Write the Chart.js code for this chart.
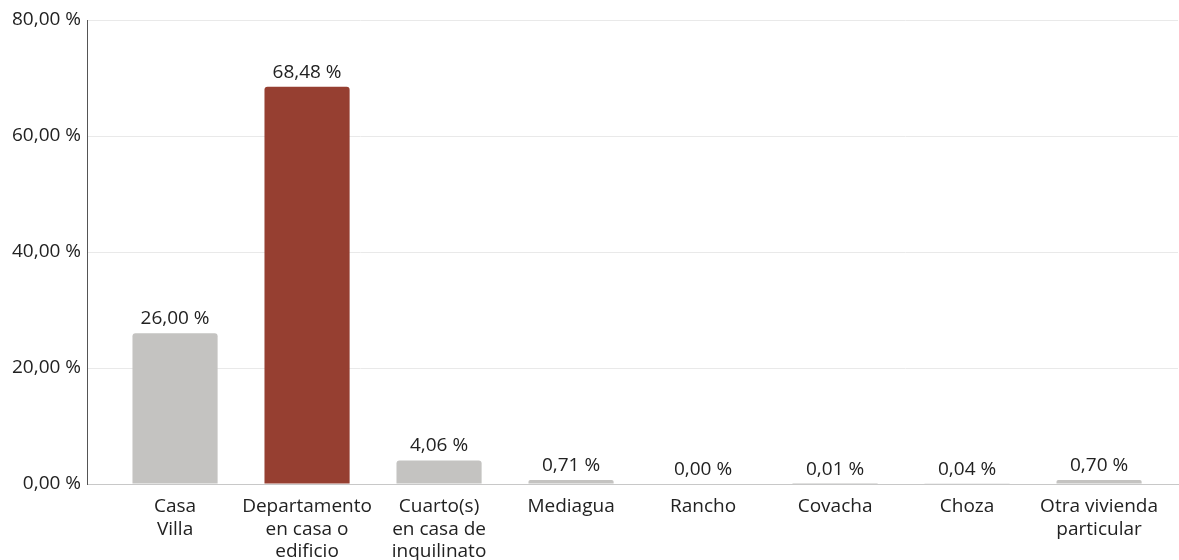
<!DOCTYPE html>
<html>
<head>
<meta charset="utf-8">
<script src="https://cdn.jsdelivr.net/npm/chart.js@4.4.1/dist/chart.umd.min.js"></script>
<style>
  html, body { margin: 0; padding: 0; background: #fff; overflow: hidden; }
  #wrap { width: 1179px; height: 580px; position: relative; }
</style>
</head>
<body>
<div id="wrap"><canvas id="chart"></canvas></div>
<script>
const categories = [
  ["Casa", "Villa"],
  ["Departamento", "en casa o", "edificio"],
  ["Cuarto(s)", "en casa de", "inquilinato"],
  ["Mediagua"],
  ["Rancho"],
  ["Covacha"],
  ["Choza"],
  ["Otra vivienda", "particular"]
];
const values = [26.00, 68.48, 4.06, 0.71, 0.00, 0.01, 0.04, 0.70];
const highlightIndex = 1;
const yTicks = [0, 20, 40, 60, 80];

const GRAY = "#c4c3c1";
const RED = "#963f31";
const FONT = "'Open Sans', sans-serif";

function formatPct(v) {
  return v.toFixed(2).replace(".", ",") + " %";
}

const valueLabels = {
  id: "valueLabels",
  afterDatasetsDraw(chart) {
    const ctx = chart.ctx;
    const meta = chart.getDatasetMeta(0);
    ctx.save();
    ctx.font = "19px " + FONT;
    ctx.fillStyle = "#222";
    ctx.textAlign = "center";
    ctx.textBaseline = "bottom";
    meta.data.forEach((bar, i) => {
      ctx.fillText(formatPct(values[i]), bar.x, bar.y - 5);
    });
    ctx.restore();
  }
};

new Chart(document.getElementById("chart"), {
  type: "bar",
  data: {
    datasets: [{
      data: values.map((v, i) => ({ x: i, y: v })),
      backgroundColor: values.map((v, i) => i === highlightIndex ? RED : GRAY),
      borderRadius: { topLeft: 3, topRight: 3 },
      borderSkipped: "bottom",
      categoryPercentage: 1,
      barPercentage: 0.645
    }]
  },
  options: {
    responsive: true,
    maintainAspectRatio: false,
    animation: false,
    layout: { padding: { top: 20, right: 1, left: 0, bottom: 0 } },
    plugins: {
      legend: { display: false },
      tooltip: { enabled: false }
    },
    scales: {
      x: {
        type: "linear",
        offset: false,
        min: -0.667,
        max: 7.598,
        afterBuildTicks(scale) {
          scale.ticks = categories.map((c, i) => ({ value: i }));
        },
        afterFit(scale) {
          scale.height = 96;
        },
        ticks: {
          autoSkip: false,
          maxRotation: 0,
          padding: 3,
          color: "#222",
          font: { family: FONT, size: 19, lineHeight: 1.2 },
          callback: value => categories[value]
        },
        grid: { display: false, offset: false },
        border: { color: "#c8c8c8", width: 1 }
      },
      y: {
        min: 0,
        max: 80,
        afterBuildTicks(scale) {
          scale.ticks = yTicks.map(v => ({ value: v }));
        },
        afterFit(scale) {
          scale.width = 87;
        },
        ticks: {
          padding: 6,
          color: "#222",
          font: { family: FONT, size: 19 },
          callback: value => formatPct(value)
        },
        grid: { color: "#e9e9e9", drawTicks: false },
        border: { color: "#555", width: 1 }
      }
    }
  },
  plugins: [valueLabels]
});
</script>
</body>
</html>
